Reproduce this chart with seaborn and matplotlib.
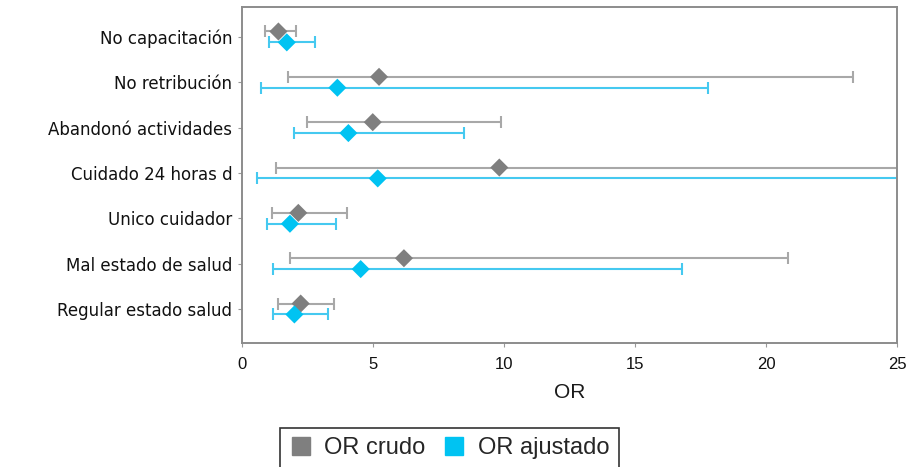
import numpy as np
import pandas as pd
import seaborn as sns
import matplotlib.pyplot as plt
from matplotlib.lines import Line2D

# Data
factors = ["No capacitación", "No retribución", "Abandonó actividades",
           "Cuidado 24 horas d", "Unico cuidador", "Mal estado de salud",
           "Regular estado salud"]
or_crudo = [1.39, 5.23, 4.99, 9.82, 2.15, 6.18, 2.24]
crudo_low = [0.88, 1.77, 2.47, 1.29, 1.13, 1.83, 1.36]
crudo_high = [2.08, 23.3, 9.89, 32.0, 4.00, 20.84, 3.52]
or_ajustado = [1.71, 3.64, 4.06, 5.18, 1.83, 4.53, 2.00]
ajust_low = [1.04, 0.73, 2.00, 0.56, 0.97, 1.20, 1.20]
ajust_high = [2.79, 17.8, 8.49, 30.0, 3.59, 16.8, 3.27]

series = ["OR crudo", "OR ajustado"]
marker_colors = {"OR crudo": "#7f7f7f", "OR ajustado": "#00c3f2"}
line_colors = {"OR crudo": "#a8a8a8", "OR ajustado": "#45c9f0"}
offset = {"OR crudo": -0.12, "OR ajustado": 0.12}

rows = []
for i, f in enumerate(factors):
    rows.append(dict(factor=f, serie="OR crudo", OR=or_crudo[i],
                     low=crudo_low[i], high=crudo_high[i], pos=i + offset["OR crudo"]))
    rows.append(dict(factor=f, serie="OR ajustado", OR=or_ajustado[i],
                     low=ajust_low[i], high=ajust_high[i], pos=i + offset["OR ajustado"]))
df = pd.DataFrame(rows)

sns.set_style("white")
plt.rcParams['font.family'] = ['DejaVu Sans']

fig = plt.figure(figsize=(9.08, 4.67), dpi=100)
ax = fig.add_axes([0.2665, 0.2655, 0.7215, 0.7195])

# confidence intervals
for s in series:
    sub = df[df["serie"] == s]
    ax.errorbar(sub["OR"], sub["pos"],
                xerr=[sub["OR"] - sub["low"], sub["high"] - sub["OR"]],
                fmt="none", ecolor=line_colors[s], elinewidth=1.5,
                capsize=4, capthick=1.5, zorder=2)

# point estimates
sns.scatterplot(data=df, x="OR", y="pos", hue="serie", palette=marker_colors,
                marker="D", s=85, edgecolor="none", legend=False, ax=ax, zorder=3)

ax.set_xlim(0, 25)
ax.set_ylim(len(factors) - 0.25, -0.66)
ax.set_xticks([0, 5, 10, 15, 20, 25])
ax.set_xticklabels([0, 5, 10, 15, 20, 25], family="Liberation Sans", fontsize=12)
ax.set_yticks(range(len(factors)))
ax.set_yticklabels(factors, fontsize=12, color="#111111")
ax.tick_params(axis="x", colors="#111111", length=3, color="#999999", pad=7)
ax.tick_params(axis="y", length=3, color="#999999", pad=4)
ax.tick_params(axis="both", bottom=True, left=True)
ax.set_xlabel("OR", family="Liberation Sans", fontsize=15, color="#1a1a1a", labelpad=8)
ax.set_ylabel("")

for sp in ax.spines.values():
    sp.set_color("#8c8c8c")
    sp.set_linewidth(1.4)

handles = [Line2D([], [], marker="s", linestyle="none", markersize=13,
                  color=marker_colors[s], label=s) for s in series]
leg = fig.legend(handles=handles, loc="lower center", ncol=2,
                 bbox_to_anchor=(449 / 908, -0.004), borderaxespad=0, frameon=True,
                 prop={"family": "Liberation Sans", "size": 17},
                 handletextpad=0.5, columnspacing=0.7,
                 borderpad=0.4, handlelength=1.0, fancybox=False)
leg.get_frame().set_edgecolor("black")
leg.get_frame().set_linewidth(1.2)

fig.savefig("out.png", dpi=100)
